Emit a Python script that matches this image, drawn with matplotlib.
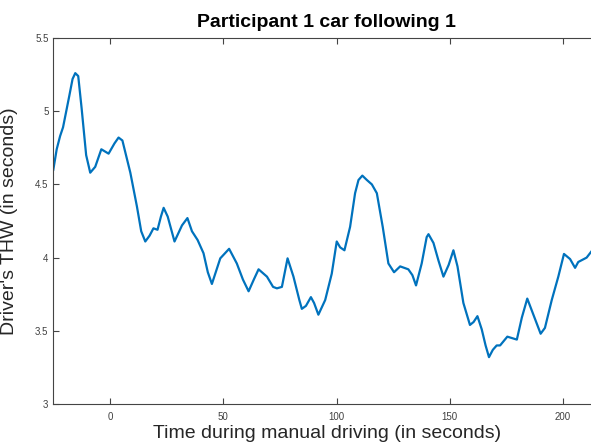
import matplotlib.pyplot as plt

# time (s) and THW (s)
time = [-25, -23.5, -22, -20.7, -18, -16.5, -15.3, -14, -12.5, -10.5, -8.7, -6.5, -3.8, -0.6, 2,
        3.8, 5.5, 9.0, 11.9, 13.8, 15.6, 17.5, 19.2, 21.0, 22.5, 23.7, 25.5, 28.5, 31.8,
        34.2, 36.2, 38.7, 41.3, 43.2, 45.0, 48.7, 52.6, 56.0, 58.7, 61.2, 63.5, 65.6,
        69.3, 72, 73.7, 75.9, 78.4, 81.0, 83.6, 84.7, 86.5, 88.7, 90.1, 92.0, 95.0, 97.9,
        100.1, 101.6, 103.5, 106.0, 108.2, 109.7, 111.4, 113.4, 115.6, 117.8, 120.4,
        122.9, 125.4, 128.1, 131.7, 133.5, 135.1, 137.6, 139.8, 140.6, 142.8, 145, 147.2,
        149.5, 151.6, 153.4, 156.0, 158.9, 160.5, 162.2, 164.1, 165.8, 167.3, 169, 170.7,
        172.2, 175.4, 179.6, 181.8, 184.2, 186.9, 190.1, 192.0, 195.0, 197.9, 200.4,
        203.1, 205.3, 206.7, 210.4, 212.4]
thw = [4.60, 4.74, 4.83, 4.89, 5.10, 5.22, 5.26, 5.24, 5.02, 4.70, 4.58, 4.62, 4.74, 4.71, 4.78,
       4.82, 4.80, 4.58, 4.35, 4.18, 4.11, 4.15, 4.20, 4.19, 4.28, 4.34, 4.28, 4.11, 4.22,
       4.27, 4.18, 4.12, 4.03, 3.90, 3.82, 3.995, 4.06, 3.96, 3.85, 3.77, 3.85, 3.92,
       3.87, 3.80, 3.79, 3.80, 3.995, 3.87, 3.71, 3.65, 3.67, 3.73, 3.69, 3.61, 3.71, 3.89,
       4.11, 4.07, 4.05, 4.21, 4.44, 4.53, 4.56, 4.53, 4.50, 4.44, 4.21,
       3.96, 3.90, 3.94, 3.92, 3.88, 3.81, 3.96, 4.14, 4.16, 4.10, 3.98, 3.87,
       3.95, 4.05, 3.94, 3.69, 3.54, 3.56, 3.60, 3.51, 3.40, 3.32, 3.37, 3.40,
       3.40, 3.46, 3.44, 3.59, 3.72, 3.61, 3.48, 3.52, 3.71, 3.87, 4.025,
       3.99, 3.93, 3.97, 4.00, 4.04]

xticks = [0, 50, 100, 150, 200]
yticks = [3, 3.5, 4, 4.5, 5, 5.5]
ytick_labels = ['3', '3.5', '4', '4.5', '5', '5.5']

plt.rcParams['font.family'] = ['Liberation Sans', 'DejaVu Sans']

fig = plt.figure(figsize=(5.91, 4.46), dpi=100)
# axes run a little past the right edge, like the cropped original
ax = fig.add_axes([53.3 / 591, 42 / 446, (600 - 53.3) / 591, 366 / 446])

ax.plot(time, thw, color='#0072BD', linewidth=1.6, solid_joinstyle='round')

ax.set_xlim(-25, 216.3)
ax.set_ylim(3, 5.5)
ax.set_xticks(xticks)
ax.set_xticklabels([str(t) for t in xticks])
ax.set_yticks(yticks)
ax.set_yticklabels(ytick_labels)

gray = '#262626'
for s in ax.spines.values():
    s.set_color('#444444')
    s.set_linewidth(0.8)
ax.tick_params(direction='in', length=4, width=0.8, colors='#444444',
               labelsize=7, labelcolor='#404040', top=True, right=True)
ax.tick_params(axis='x', pad=6)

ax.set_title('Participant 1 car following 1', fontsize=14, fontweight='bold',
             color='black', pad=8)
ax.set_xlabel('Time during manual driving (in seconds)', fontsize=14, color=gray,
              labelpad=2)
ax.set_ylabel("Driver's THW (in seconds)", fontsize=14, color=gray, labelpad=12)

fig.savefig('out.png', dpi=100)
